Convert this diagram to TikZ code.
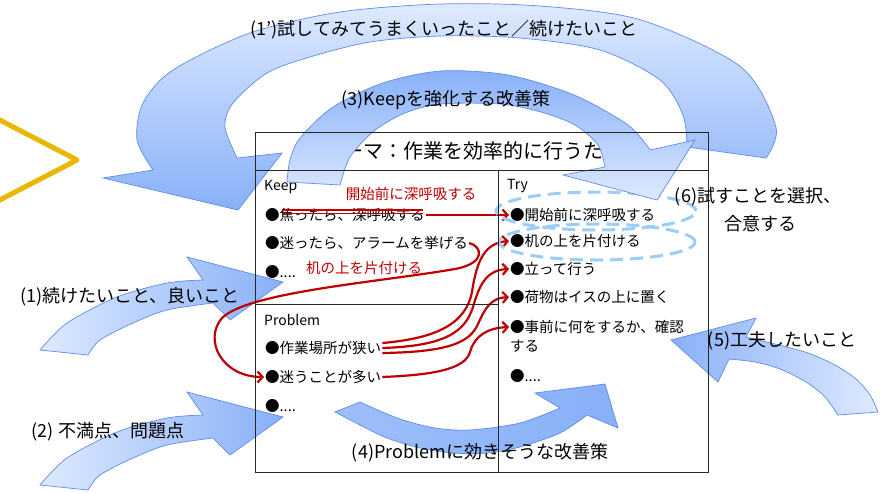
\documentclass[tikz,border=0pt]{standalone}
\usepackage{fontspec}
\setmainfont{Noto Sans CJK JP}
\usetikzlibrary{arrows.meta}
\definecolor{redc}{RGB}{192,0,0}
\definecolor{bluelight}{RGB}{222,234,255}
\definecolor{bluedark}{RGB}{136,176,248}
\definecolor{blueedge}{RGB}{95,140,235}
\definecolor{dashblue}{RGB}{155,205,250}
\definecolor{goldc}{RGB}{232,184,0}
\tikzset{
  barrow/.style={draw=blueedge, line width=0.7pt, line join=miter},
  shadeTB/.style={barrow, top color=bluelight, bottom color=bluedark},
  shadeBT/.style={barrow, top color=bluedark, bottom color=bluelight},
  shadeLR/.style={barrow, left color=bluelight, right color=bluedark},
  shadeRL/.style={barrow, left color=bluedark, right color=bluelight},
  shadeMid/.style={barrow, left color=bluedark!75!bluelight, right color=bluedark},
  item/.style={anchor=west, inner sep=1pt, font=\fontsize{14.5pt}{16pt}\selectfont},
  header/.style={anchor=west, inner sep=1pt, font=\fontsize{14pt}{16pt}\selectfont},
  redlabel/.style={inner sep=1pt, text=redc, font=\fontsize{14.5pt}{16pt}\selectfont},
  biglabel/.style={inner sep=0pt, font=\fontsize{18pt}{20pt}\selectfont},
  titlelabel/.style={inner sep=0pt, font=\fontsize{20pt}{22pt}\selectfont},
  redline/.style={draw=redc, line width=2.2pt, -{Straight Barb[length=5pt,width=11pt]}},
  strike/.style={draw=redc, line width=1.8pt},
  dashring/.style={draw=dashblue, line width=3pt, dash pattern=on 13pt off 7pt},
  tableline/.style={draw=black!85, line width=1pt},
}
\begin{document}
\begin{tikzpicture}[x=1pt,y=-1pt]
\useasboundingbox (0,0) rectangle (882,493);
\fill[white] (0,0) rectangle (882,493);
\clip (0,0) rectangle (882,493);

% yellow chevron
\draw[goldc, line width=5pt, line join=round, line cap=round] (-6,117) -- (77,160) -- (-6,203);

% lower block arrows (under the table)
\path[shadeLR] plot[smooth] coordinates {(40,350) (67,323) (117,297) (167,283) (203,280)}
  -- (187,257) -- (283,282) -- (230,320) -- (213,303)
  -- plot[smooth] coordinates {(213,303) (167,310) (133,323) (100,340) (88,355)} -- cycle;
\begin{scope}[shift={(0,135)}]
\path[shadeLR] plot[smooth] coordinates {(40,350) (67,323) (117,297) (167,283) (203,280)}
  -- (187,257) -- (283,282) -- (230,320) -- (213,303)
  -- plot[smooth] coordinates {(213,303) (167,310) (133,323) (100,340) (88,355)} -- cycle;
\end{scope}
\path[shadeMid] plot[smooth] coordinates {(335,412) (360,402)}
  -- plot[smooth] coordinates {(360,402) (380,411) (403,420) (435,428) (470,430) (520,423) (560,408)}
  -- (535,393) -- (605,384) -- (618,428) -- (587,415)
  -- plot[smooth] coordinates {(587,415) (560,433) (520,447) (487,453) (453,453) (420,448) (387,438) (360,425) (335,412)} -- cycle;
\path[shadeRL] plot[smooth] coordinates {(878,412) (870,395) (856,379) (835,365) (808,353) (775,344) (746,337)}
  -- (756,318) -- (671,340) -- (718,382) -- (729,359)
  -- plot[smooth] coordinates {(729,359) (755,362) (780,369) (806,382) (825,397) (838,415)} -- cycle;

% table texts
\node[titlelabel] (title) at (483,151) {テーマ：作業を効率的に行うために};
\node[header] (hk) at (263,187) {Keep};
\node[header] (ht) at (506,186) {Try};
\node[header] (hp) at (263,320) {Problem};

\node[item] (k1) at (264,215) {●焦ったら、深呼吸する};
\node[item] (k2) at (264,243) {●迷ったら、アラームを挙げる};
\node[item] (k3) at (264,272) {●....};
\node[item] (p1) at (264,348) {●作業場所が狭い};
\node[item] (p2) at (264,377) {●迷うことが多い};
\node[item] (p3) at (264,406) {●....};

\node[item] (t1) at (509,215) {●開始前に深呼吸する};
\node[item] (t2) at (509,241) {●机の上を片付ける};
\node[item] (t3) at (509,269) {●立って行う};
\node[item] (t4) at (509,297) {●荷物はイスの上に置く};
\node[item] (t5) at (509,327) {●事前に何をするか、確認};
\node[item] (t5b) at (509,346) {する};
\node[item] (t6) at (509,376) {●....};

\node[redlabel] (rl1) at (411,194) {開始前に深呼吸する};
\node[redlabel] (rl2) at (364,268) {机の上を片付ける};

% strike-through of the first Keep item
\draw[strike] (282,210) -- (423,210);
\draw[strike] (282,213.5) -- (423,213.5);

% red connectors
\draw[redline] (k1.east) -- (t1.west);
\draw[redline] (k2.east) .. controls (482,246) and (487,263) .. (455,269)
  .. controls (380,282) and (248,292) .. (222,318)
  .. controls (203,340) and (222,377) .. (p2.west);
\draw[redline] ([yshift=5pt]p1.east) .. controls (440,338) and (466,322) .. (472,292)
  .. controls (477,258) and (486,243) .. (t2.west);
\draw[redline] (p1.east) .. controls (445,346) and (465,332) .. (473,307)
  .. controls (480,282) and (488,270) .. (t3.west);
\draw[redline] ([yshift=-5pt]p1.east) .. controls (450,352) and (470,342) .. (478,324)
  .. controls (486,306) and (492,298) .. (t4.west);
\draw[redline] (p2.east) .. controls (430,375) and (465,370) .. (470,352)
  .. controls (475,335) and (488,328) .. (t5.west);

% dashed rings around the chosen Try items
\draw[dashring] (596,211) ellipse [x radius=100pt, y radius=19pt];
\draw[dashring] (597,242) ellipse [x radius=98pt, y radius=18pt];

% big arc arrows (over the table title)
\path[shadeTB] plot[smooth] coordinates {(766,158) (776,127) (741,67) (641,20) (540,6) (441,4) (340,12) (250,33) (173,70) (143,103) (137,140) (153,170)}
  -- (103,178) -- (238,210) -- (282,153) -- (237,158)
  -- plot[smooth] coordinates {(237,158) (225,127) (233,103) (267,73) (310,57) (370,42) (441,36) (520,38) (600,50) (660,80) (683,115) (687,147)} -- cycle;
\path[shadeBT] plot[smooth] coordinates {(287,182) (290,160) (300,138) (333,107) (383,83) (441,71) (508,75) (574,95) (628,125) (650,150)}
  -- (695,140) -- (657,200) -- (563,175) -- (605,167)
  -- plot[smooth] coordinates {(605,167) (598,145) (575,125) (541,112) (500,104) (441,104) (405,113) (374,131) (350,157) (340,185)} -- cycle;

% table lines
\draw[tableline] (255,132) rectangle (708,472);
\draw[tableline] (255,170) -- (708,170);
\draw[tableline] (498,170) -- (498,472);
\draw[tableline] (255,304) -- (498,304);

% arrow labels
\node[biglabel] (l1p) at (444,30) {(1')試してみてうまくいったこと／続けたいこと};
\node[biglabel] (l3) at (446,100) {(3)Keepを強化する改善策};
\node[biglabel] (l1) at (130,297) {(1)続けたいこと、良いこと};
\node[biglabel] (l2) at (108,432) {(2) 不満点、問題点};
\node[biglabel] (l4) at (480,453) {(4)Problemに効きそうな改善策};
\node[biglabel] (l5) at (782,341) {(5)工夫したいこと};
\node[biglabel] (l6a) at (758,197) {(6)試すことを選択、};
\node[biglabel] (l6b) at (760,224) {合意する};
\end{tikzpicture}
\end{document}
